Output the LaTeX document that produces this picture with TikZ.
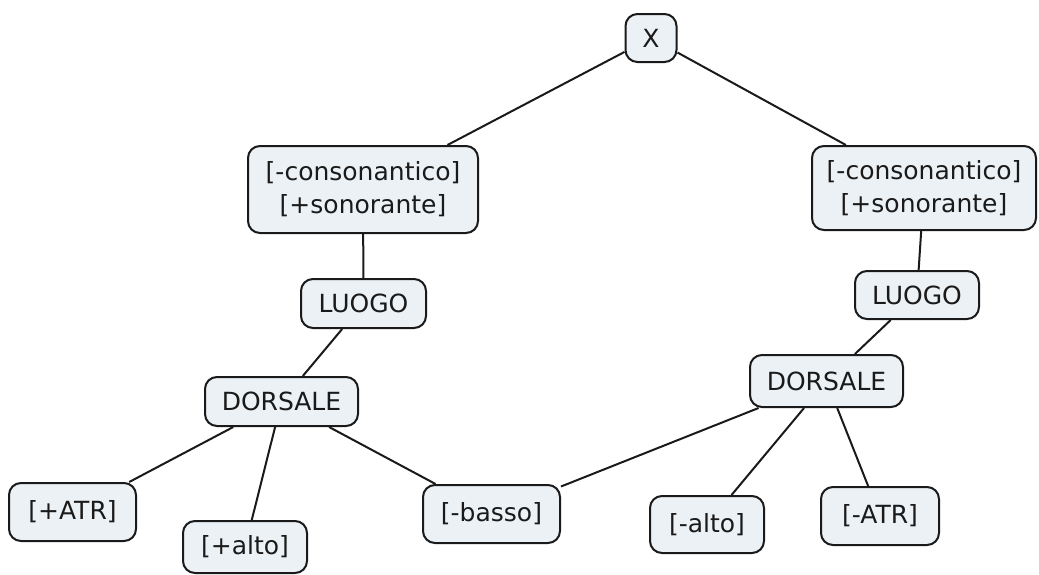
\documentclass[tikz,border=0pt]{standalone}
\usepackage{fontspec}
\setmainfont{DejaVu Sans}
\definecolor{boxfill}{HTML}{EBF1F5}
\definecolor{ink}{HTML}{1A1A1A}
\begin{document}
\begin{tikzpicture}[x=1pt,y=-1pt,
  concept/.style={draw=ink, line width=2pt, fill=boxfill, rounded corners=12pt,
    font=\fontsize{25}{33}\selectfont, text=ink, align=center, inner sep=0pt},
  link/.style={draw=ink, line width=2pt}]
\useasboundingbox (0,0) rectangle (1039,574);
% nodes
\node[concept, minimum width=51pt, minimum height=48pt] (x) at (651,38) {X};
\node[concept, minimum width=230pt, minimum height=87pt] (cl) at (363,189.5) {[-consonantico]\\{}[+sonorante]};
\node[concept, minimum width=224pt, minimum height=84pt] (cr) at (924,188) {[-consonantico]\\{}[+sonorante]};
\node[concept, minimum width=125pt, minimum height=49pt] (ll) at (363.5,303.5) {LUOGO};
\node[concept, minimum width=124pt, minimum height=48pt] (lr) at (917,295) {LUOGO};
\node[concept, minimum width=153pt, minimum height=49pt] (dl) at (281.5,401.5) {DORSALE};
\node[concept, minimum width=153pt, minimum height=52pt] (dr) at (826.5,381) {DORSALE};
\node[concept, minimum width=127pt, minimum height=58pt] (atrp) at (72.5,512) {[+ATR]};
\node[concept, minimum width=124pt, minimum height=52pt] (altop) at (245,547) {[+alto]};
\node[concept, minimum width=137pt, minimum height=58pt] (basso) at (491.5,514) {[-basso]};
\node[concept, minimum width=114pt, minimum height=57pt] (altom) at (707,524.5) {[-alto]};
\node[concept, minimum width=118pt, minimum height=58pt] (atrm) at (880,516) {[-ATR]};
% connectors between concepts
\draw[link] (x) -- (cl);
\draw[link] (x) -- (cr);
\draw[link] (cl) -- (ll);
\draw[link] (cr) -- (lr);
\draw[link] (ll) -- (dl);
\draw[link] (lr) -- (dr);
\draw[link] (dl) -- (atrp);
\draw[link] (dl) -- (altop);
\draw[link] (dl) -- (basso);
\draw[link] (dr) -- (basso);
\draw[link] (dr) -- (altom);
\draw[link] (dr) -- (atrm);
\end{tikzpicture}
\end{document}
